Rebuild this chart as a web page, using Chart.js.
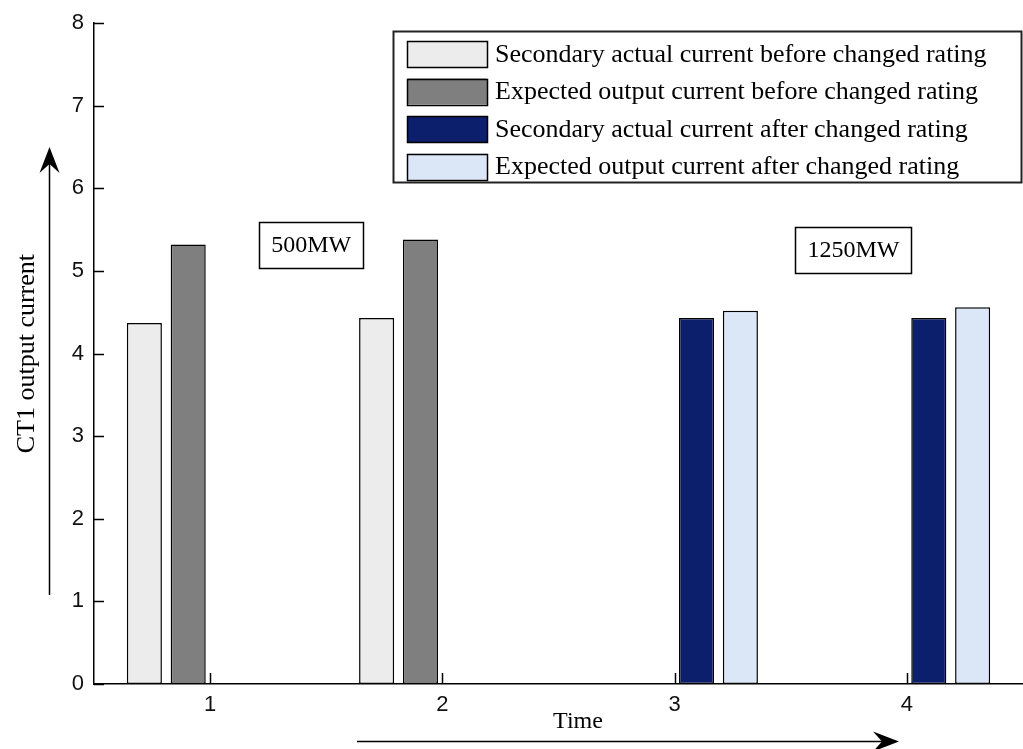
<!DOCTYPE html>
<html>
<head>
<meta charset="utf-8">
<title>CT1 output current</title>
<script src="https://cdn.jsdelivr.net/npm/chart.js@4.4.1/dist/chart.umd.min.js"></script>
<style>
  html, body { margin: 0; padding: 0; background: #fff; }
  #chart { display: block; }
</style>
</head>
<body>
<canvas id="chart" width="1023" height="749"></canvas>
<script>
// time steps on the x axis
var timeLabels = ['1', '2', '3', '4'];

// measured / expected CT1 secondary current
var actualBefore   = [4.37, 4.43, null, null];
var expectedBefore = [5.32, 5.38, null, null];
var actualAfter    = [null, null, 4.43, 4.43];
var expectedAfter  = [null, null, 4.52, 4.56];

var seriesNames = [
    'Secondary actual current before changed rating',
    'Expected output current before changed rating',
    'Secondary actual current after changed rating',
    'Expected output current after changed rating'
];
var seriesColors = ['#ececec', '#7f7f7f', '#0c1f6c', '#dbe7f7'];

// rating notes, placed in data units (category index, current)
var ratingNotes = ['500MW', '1250MW'];
var ratingNoteX = [0.435, 2.77];
var ratingNoteY = [5.32, 5.26];

var serif = '"Liberation Serif", "Times New Roman", serif';
var sans = '"Liberation Sans", Arial, sans-serif';

function arrowHead(ctx, x, y, dx, dy) {
    // filled arrow head with a notched back, tip at (x, y)
    var len = 26, half = 10, notch = 17;
    var px = -dy, py = dx;
    ctx.beginPath();
    ctx.moveTo(x, y);
    ctx.lineTo(x - dx * len + px * half, y - dy * len + py * half);
    ctx.lineTo(x - dx * notch, y - dy * notch);
    ctx.lineTo(x - dx * len - px * half, y - dy * len - py * half);
    ctx.closePath();
    ctx.fill();
}

var decorations = {
    id: 'decorations',
    afterDraw: function(chart) {
        var ctx = chart.ctx;
        var xs = chart.scales.x, ys = chart.scales.y;
        var area = chart.chartArea;

        ctx.save();
        ctx.strokeStyle = '#000';
        ctx.fillStyle = '#000';
        ctx.lineWidth = 1.5;

        // inward tick marks
        ys.ticks.forEach(function(t) {
            var py = Math.round(ys.getPixelForValue(t.value)) + 0.5;
            ctx.beginPath();
            ctx.moveTo(area.left, py);
            ctx.lineTo(area.left + 10, py);
            ctx.stroke();
        });
        xs.ticks.forEach(function(t, i) {
            var px = Math.round(xs.getPixelForTick(i)) + 0.5;
            ctx.beginPath();
            ctx.moveTo(px, area.bottom);
            ctx.lineTo(px, area.bottom - 11);
            ctx.stroke();
        });

        // axis titles with arrows
        ctx.textAlign = 'center';
        ctx.textBaseline = 'middle';
        ctx.font = '26px ' + serif;
        ctx.save();
        ctx.translate(27, (area.top + area.bottom) / 2);
        ctx.rotate(-Math.PI / 2);
        ctx.fillText('CT1 output current', 0, 0);
        ctx.restore();
        ctx.font = '24px ' + serif;
        ctx.fillText('Time', 578, 722);

        ctx.lineWidth = 1.5;
        ctx.beginPath();
        ctx.moveTo(49.5, 595);
        ctx.lineTo(49.5, 160);
        ctx.stroke();
        arrowHead(ctx, 49.5, 147, 0, -1);

        ctx.beginPath();
        ctx.moveTo(357, 741.5);
        ctx.lineTo(885, 741.5);
        ctx.stroke();
        arrowHead(ctx, 899, 741.5, 1, 0);

        // rating notes
        ratingNotes.forEach(function(txt, i) {
            var cx = xs.getPixelForValue(ratingNoteX[i]);
            var cy = ys.getPixelForValue(ratingNoteY[i]);
            var w = ctx.measureText(txt).width + 24;
            var h = 46;
            ctx.fillStyle = '#fff';
            ctx.fillRect(cx - w / 2, cy - h / 2, w, h);
            ctx.lineWidth = 1.5;
            ctx.strokeRect(Math.round(cx - w / 2) + 0.5, Math.round(cy - h / 2) + 0.5, Math.round(w), h);
            ctx.fillStyle = '#000';
            ctx.fillText(txt, cx, cy + 1);
        });

        // legend box
        var lx = 393.5, ly = 31.5, lw = 628, lh = 151;
        ctx.fillStyle = '#fff';
        ctx.fillRect(lx, ly, lw, lh);
        ctx.lineWidth = 2;
        ctx.strokeStyle = '#222';
        ctx.strokeRect(lx, ly, lw, lh);
        ctx.textAlign = 'left';
        ctx.font = '26px ' + serif;
        chart.data.datasets.forEach(function(ds, i) {
            var rowY = 54 + i * 37.5;
            ctx.fillStyle = ds.backgroundColor;
            ctx.fillRect(407, rowY - 13, 80, 26);
            ctx.lineWidth = 1.5;
            ctx.strokeStyle = '#000';
            ctx.strokeRect(407.5, Math.round(rowY - 13) + 0.5, 80, 26);
            ctx.fillStyle = '#000';
            ctx.fillText(ds.label, 495, rowY + 1);
        });

        ctx.restore();
    }
};

var datasets = [actualBefore, expectedBefore, actualAfter, expectedAfter].map(function(vals, i) {
    return {
        label: seriesNames[i],
        data: vals,
        backgroundColor: seriesColors[i],
        borderColor: '#000',
        borderWidth: 1.5,
        borderSkipped: false,
        categoryPercentage: 0.755,
        barPercentage: 0.8
    };
});

new Chart(document.getElementById('chart'), {
    type: 'bar',
    data: {
        labels: timeLabels,
        datasets: datasets
    },
    options: {
        responsive: false,
        animation: false,
        layout: { padding: { top: 22, right: 0, left: 0, bottom: 0 } },
        plugins: {
            legend: { display: false },
            tooltip: { enabled: false }
        },
        scales: {
            x: {
                grid: { display: false, drawTicks: false },
                border: { display: true, color: '#000', width: 1.5 },
                ticks: { color: '#111', font: { family: sans, size: 22 }, padding: 8, maxRotation: 0 },
                afterFit: function(scale) { scale.height = 65; }
            },
            y: {
                min: 0,
                max: 8,
                grid: { display: false, drawTicks: false },
                border: { display: true, color: '#000', width: 1.5 },
                ticks: { stepSize: 1, color: '#111', font: { family: sans, size: 22 }, padding: 10 },
                afterFit: function(scale) { scale.width = 94; }
            }
        }
    },
    plugins: [decorations]
});
</script>
</body>
</html>
